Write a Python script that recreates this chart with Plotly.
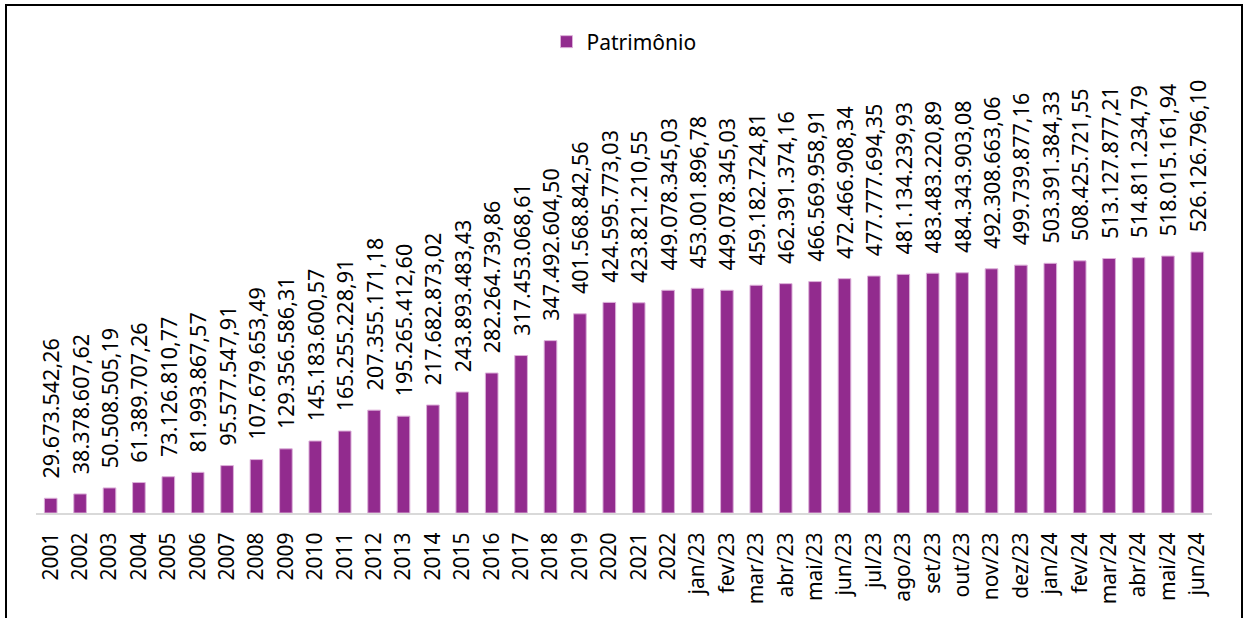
import plotly.graph_objects as go

periodos = ['2001', '2002', '2003', '2004', '2005', '2006', '2007', '2008', '2009', '2010',
            '2011', '2012', '2013', '2014', '2015', '2016', '2017', '2018', '2019', '2020',
            '2021', '2022', 'jan/23', 'fev/23', 'mar/23', 'abr/23', 'mai/23', 'jun/23',
            'jul/23', 'ago/23', 'set/23', 'out/23', 'nov/23', 'dez/23', 'jan/24', 'fev/24',
            'mar/24', 'abr/24', 'mai/24', 'jun/24']

patrimonio = [29673542.26, 38378607.62, 50508505.19, 61389707.26, 73126810.77, 81993867.57,
              95577547.91, 107679653.49, 129356586.31, 145183600.57, 165255228.91, 207355171.18,
              195265412.60, 217682873.02, 243893483.43, 282264739.86, 317453068.61, 347492604.50,
              401568842.56, 424595773.03, 423821210.55, 449078345.03, 453001896.78, 449078345.03,
              459182724.81, 462391374.16, 466569958.91, 472466908.34, 477777694.35, 481134239.93,
              483483220.89, 484343903.08, 492308663.06, 499739877.16, 503391384.33, 508425721.55,
              513127877.21, 514811234.79, 518015161.94, 526126796.10]


def br(v):
    s = f'{v:,.2f}'
    return s.replace(',', '#').replace('.', ',').replace('#', '.')


rotulos = ['\u00a0\u00a0\u00a0' + br(v) for v in patrimonio]

W, H = 1245, 618
ml, mr, mt, mb = 36, 33, 60, 105
pw = W - ml - mr
ph = H - mt - mb

fig = go.Figure(go.Bar(
    x=periodos, y=patrimonio, name='Patrimônio',
    marker=dict(color='#922B8E', line=dict(color='#dcb0d9', width=1)),
    text=rotulos, textposition='outside', textangle=-90, constraintext='none',
    cliponaxis=False, textfont=dict(size=21.5, color='#000000'),
))

fig.update_layout(
    width=W, height=H,
    margin=dict(l=ml, r=mr, t=mt, b=mb),
    paper_bgcolor='white', plot_bgcolor='white',
    font=dict(family='Noto Sans', size=21, color='#000000'),
    bargap=0.57,
    showlegend=True,
    legend=dict(orientation='h', x=0.5, xanchor='center', y=(ph + mt - 42) / ph, yanchor='middle',
                font=dict(size=21), itemwidth=30),
    xaxis=dict(type='category', tickangle=-90, showgrid=False, showline=True, linecolor='#d9d9d9',
               linewidth=2, ticks='outside', ticklen=9, tickcolor='rgba(0,0,0,0)',
               range=[-0.5, len(periodos) - 0.5]),
    yaxis=dict(visible=False, range=[0, ph / 0.496 * 1e6]),
    shapes=[dict(type='rect', xref='paper', yref='paper',
                 x0=(6 - ml) / pw, x1=(1242 - ml) / pw,
                 y0=-(mb + 20) / ph, y1=(ph + mt - 5) / ph,
                 line=dict(color='#000000', width=2), layer='above')],
)

fig.write_html('out.html', config={'displayModeBar': False},
               post_script="document.body.style.margin='0';")
